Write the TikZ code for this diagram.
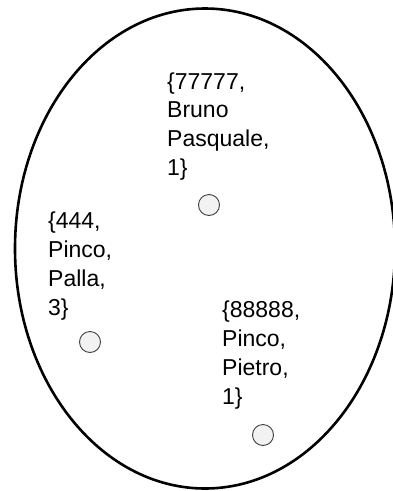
\documentclass[tikz,border=0pt]{standalone}
\usepackage{fontspec}
\setmainfont{Liberation Sans}
\tikzset{
  rec/.style={anchor=base west, align=left, inner sep=0pt, font=\fontsize{23}{28.8}\selectfont},
  dot/.style={circle, draw=black!75, fill=black!5, line width=0.9pt, minimum size=21pt, inner sep=0pt},
  set/.style={draw=black, line width=2.6pt}
}
\begin{document}
\begin{tikzpicture}[x=1pt, y=-1pt]
\useasboundingbox (0,0) rectangle (393,491);
% the set
\draw[set] (205,248.5) ellipse [x radius=190, y radius=240];
% elements
\node[dot] (bruno) at (209,205) {};
\node[dot] (pinco) at (90,342) {};
\node[dot] (pietro) at (263,435) {};
% their records (anchored on the last line)
\node[rec] (brunorec) at (167,175.5) {\{77777,\\Bruno\\Pasquale,\\1\}};
\node[rec] (pincorec) at (48,315) {\{444,\\Pinco,\\Palla,\\3\}};
\node[rec] (pietrorec) at (222,404) {\{88888,\\Pinco,\\Pietro,\\1\}};
\end{tikzpicture}
\end{document}
